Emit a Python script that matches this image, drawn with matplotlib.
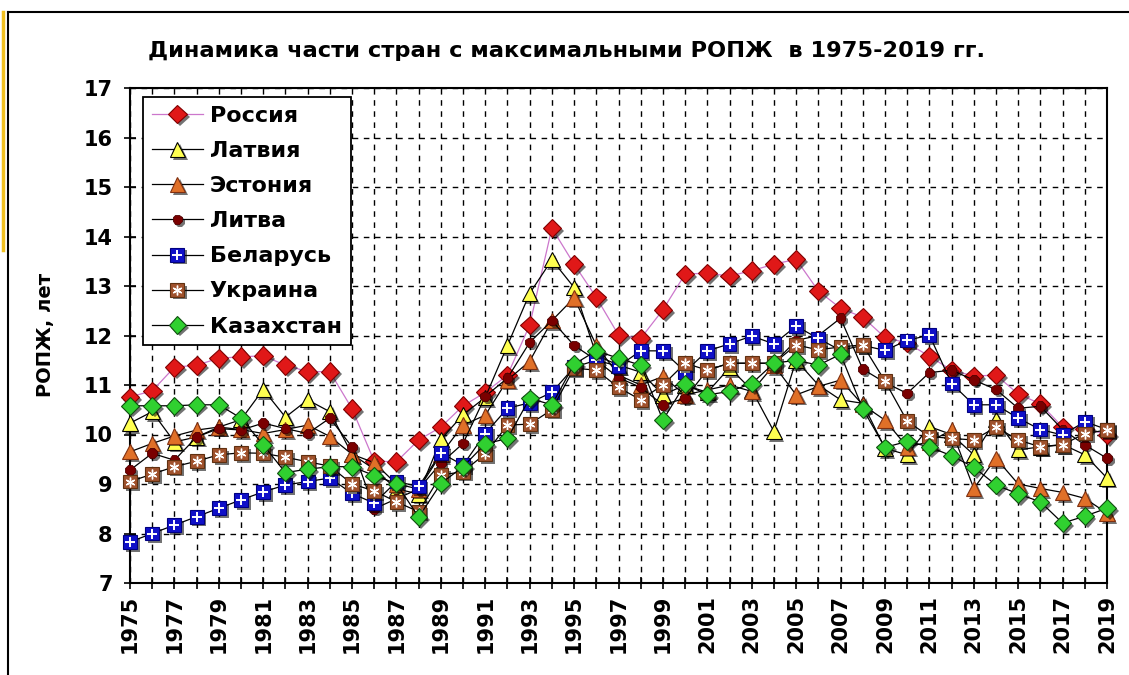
import matplotlib
matplotlib.use("Agg")
import matplotlib.pyplot as plt
from matplotlib.lines import Line2D
from matplotlib.legend_handler import HandlerTuple
import matplotlib.patheffects as pe

years = list(range(1975, 2020))

russia = [10.76, 10.88, 11.36, 11.40, 11.54, 11.57, 11.59, 11.40, 11.27, 11.27,
          10.52, 9.46, 9.45, 9.89, 10.15, 10.58, 10.85, 11.2, 12.21, 14.17,
          13.44, 12.77, 12.01, 11.94, 12.52, 13.24, 13.26, 13.20, 13.31, 13.44,
          13.54, 12.90, 12.55, 12.37, 11.96, 11.85, 11.58, 11.30, 11.18, 11.20,
          10.82, 10.62, 10.15, 10.12, 10.0]
latvia = [10.23, 10.46, 9.85, 9.95, 10.15, 10.30, 10.91, 10.35, 10.70, 10.46,
          9.60, 9.30, 8.90, 8.80, 9.90, 10.40, 10.75, 11.80, 12.85, 13.53,
          12.97, 11.60, 11.40, 11.26, 10.80, 11.00, 10.85, 11.35, 10.90, 10.06,
          11.50, 11.00, 10.70, 10.63, 9.72, 9.59, 10.16, 10.00, 9.59, 10.30,
          9.69, 9.75, 9.80, 9.59, 9.12]
estonia = [9.65, 9.82, 9.97, 10.09, 10.15, 10.10, 10.02, 10.10, 10.19, 9.96,
           9.60, 9.43, 9.00, 8.90, 9.60, 10.19, 10.39, 11.10, 11.48, 12.30,
           12.76, 11.80, 11.20, 11.00, 11.17, 10.80, 10.90, 11.00, 10.87, 11.40,
           10.80, 10.97, 11.10, 10.60, 10.29, 9.75, 9.85, 10.09, 8.91, 9.52,
           9.00, 8.91, 8.83, 8.71, 8.41]
lithuania = [9.28, 9.62, 9.48, 9.95, 10.12, 10.09, 10.23, 10.12, 10.02, 10.33,
             9.75, 8.50, 8.70, 8.90, 9.42, 9.82, 10.77, 11.14, 11.86, 12.30,
             11.80, 11.50, 11.15, 10.95, 10.60, 10.73, 11.30, 11.44, 11.44, 11.44,
             11.90, 12.00, 12.35, 11.32, 11.05, 10.83, 11.25, 11.30, 11.10, 10.91,
             10.53, 10.57, 10.10, 9.79, 9.52]
belarus = [7.83, 8.00, 8.17, 8.34, 8.51, 8.68, 8.84, 8.98, 9.05, 9.12,
           8.81, 8.61, 9.05, 8.95, 9.63, 9.38, 10.02, 10.53, 10.64, 10.85,
           11.36, 11.50, 11.38, 11.69, 11.69, 11.27, 11.69, 11.83, 11.99, 11.83,
           12.19, 11.94, 11.70, 11.80, 11.70, 11.90, 12.01, 11.03, 10.60, 10.60,
           10.33, 10.10, 9.99, 10.26, 10.10]
ukraine = [9.05, 9.20, 9.35, 9.46, 9.59, 9.63, 9.62, 9.54, 9.45, 9.36,
           9.00, 8.86, 8.64, 8.44, 9.18, 9.25, 9.61, 10.19, 10.21, 10.50,
           11.34, 11.30, 10.95, 10.70, 11.00, 11.44, 11.30, 11.44, 11.44, 11.44,
           11.81, 11.71, 11.77, 11.81, 11.08, 10.27, 9.96, 9.92, 9.89, 10.15,
           9.89, 9.75, 9.79, 10.02, 10.09]
kazakhstan = [10.58, 10.58, 10.58, 10.60, 10.60, 10.33, 9.79, 9.23, 9.30, 9.35,
              9.35, 9.17, 9.01, 8.33, 9.01, 9.35, 9.81, 9.92, 10.73, 10.60,
              11.42, 11.69, 11.54, 11.40, 10.29, 11.02, 10.80, 10.87, 11.03, 11.44,
              11.50, 11.40, 11.62, 10.52, 9.74, 9.86, 9.75, 9.57, 9.34, 8.98,
              8.80, 8.64, 8.21, 8.35, 8.51]

names = ["Россия", "Латвия", "Эстония", "Литва", "Беларусь", "Украина", "Казахстан"]
title = "Динамика части стран с максимальными РОПЖ  в 1975-2019 гг."
ylabel = "РОПЖ, лет"

plt.rcParams['font.family'] = ['DejaVu Sans']

fig = plt.figure(figsize=(11.29, 6.75), dpi=100)
fig.patch.set_facecolor('white')
ax = fig.add_axes([130/1129, 1-583/675, (1107-130)/1129, (583-88)/675])

shadow = [pe.SimplePatchShadow(offset=(2, -2), shadow_rgbFace='black', alpha=0.55), pe.Normal()]

series = [
    (russia, '#CC77CC', dict(marker='D', mfc='#E01818', mec='#800000', ms=9.5, mew=0.8)),
    (latvia, 'black', dict(marker='^', mfc='#FFFF50', mec='black', ms=11, mew=0.8)),
    (estonia, 'black', dict(marker='^', mfc='#E07028', mec='#803010', ms=11, mew=0.8)),
    (lithuania, 'black', dict(marker='8', mfc='#7A0000', mec='#500000', ms=7.5, mew=0.6)),
    (belarus, 'black', dict(marker='s', mfc='#1010C8', mec='#000080', ms=10, mew=0.8)),
    (ukraine, 'black', dict(marker='s', mfc='#A0522D', mec='#603010', ms=10, mew=0.8)),
    (kazakhstan, 'black', dict(marker='D', mfc='#30D030', mec='#105010', ms=9, mew=0.8)),
]

handles = []
for i, (vals, lc, st) in enumerate(series):
    z = 3 + i
    ax.plot(years, vals, color=lc, lw=0.9, zorder=z, clip_on=False)
    ax.plot(years, vals, ls='none', zorder=z + 0.3, clip_on=False,
            path_effects=shadow, **st)
    ln = Line2D([], [], color=lc, lw=0.9, path_effects=shadow, **st)
    if i == 4:
        ax.plot(years, vals, ls='none', marker='+', color='white', ms=7, mew=1.4,
                zorder=z + 0.4, clip_on=False)
        h = (ln, Line2D([], [], ls='none', marker='+', color='white', ms=7, mew=1.4))
    elif i == 5:
        ax.plot(years, vals, ls='none', marker=(6, 2, 0), color='white', ms=7, mew=1.0,
                zorder=z + 0.4, clip_on=False)
        h = (ln, Line2D([], [], ls='none', marker=(6, 2, 0), color='white', ms=7, mew=1.0))
    else:
        h = ln
    handles.append(h)

ax.set_xlim(1975, 2019)
ax.set_ylim(7, 17)
ax.set_xticks(years)
ax.set_xticklabels([str(y) if (y - 1975) % 2 == 0 else '' for y in years],
                   rotation=90, fontsize=15, fontweight='bold')
ax.set_yticks(range(7, 18))
ax.set_yticklabels([str(v) for v in range(7, 18)], fontsize=15, fontweight='bold')
ax.tick_params(axis='both', direction='inout', length=9, width=1.2, color='black')
ax.tick_params(axis='x', pad=4)
ax.tick_params(axis='y', pad=8)

ax.grid(True, which='major', color='black', ls=(0, (4, 4)), lw=1.0)
ax.set_axisbelow(True)
for s in ax.spines.values():
    s.set_linewidth(1.5)
    s.set_color('black')

fig.text(45/1129, 1 - 335/675, ylabel, rotation=90, ha='center', va='center',
         fontsize=14, fontweight='bold')
fig.text(567/1129, 1 - 51/675, title, ha='center', va='center', fontsize=16.2,
         fontweight='bold')

leg = ax.legend(handles, names, loc='upper left',
                bbox_to_anchor=((143-130)/977, (583-97)/495),
                prop=dict(size=16, weight='bold'), frameon=True, fancybox=False,
                edgecolor='black', framealpha=1, borderpad=0.4, labelspacing=0.68,
                handlelength=2.3, handletextpad=0.3, borderaxespad=0,
                handler_map={tuple: HandlerTuple(ndivide=1)})
leg.get_frame().set_linewidth(1.3)
leg.set_zorder(20)

# picture frame
fig.add_artist(Line2D([8/1129, 1], [1-12/675, 1-12/675], color='black', lw=1.5))
fig.add_artist(Line2D([8/1129, 8/1129], [0, 1-12/675], color='black', lw=1.5))
fig.add_artist(Line2D([3/1129, 3/1129], [1-250/675, 1-12/675], color='#F0C020', lw=2.5))

fig.savefig('out.png', dpi=100, facecolor='white')
